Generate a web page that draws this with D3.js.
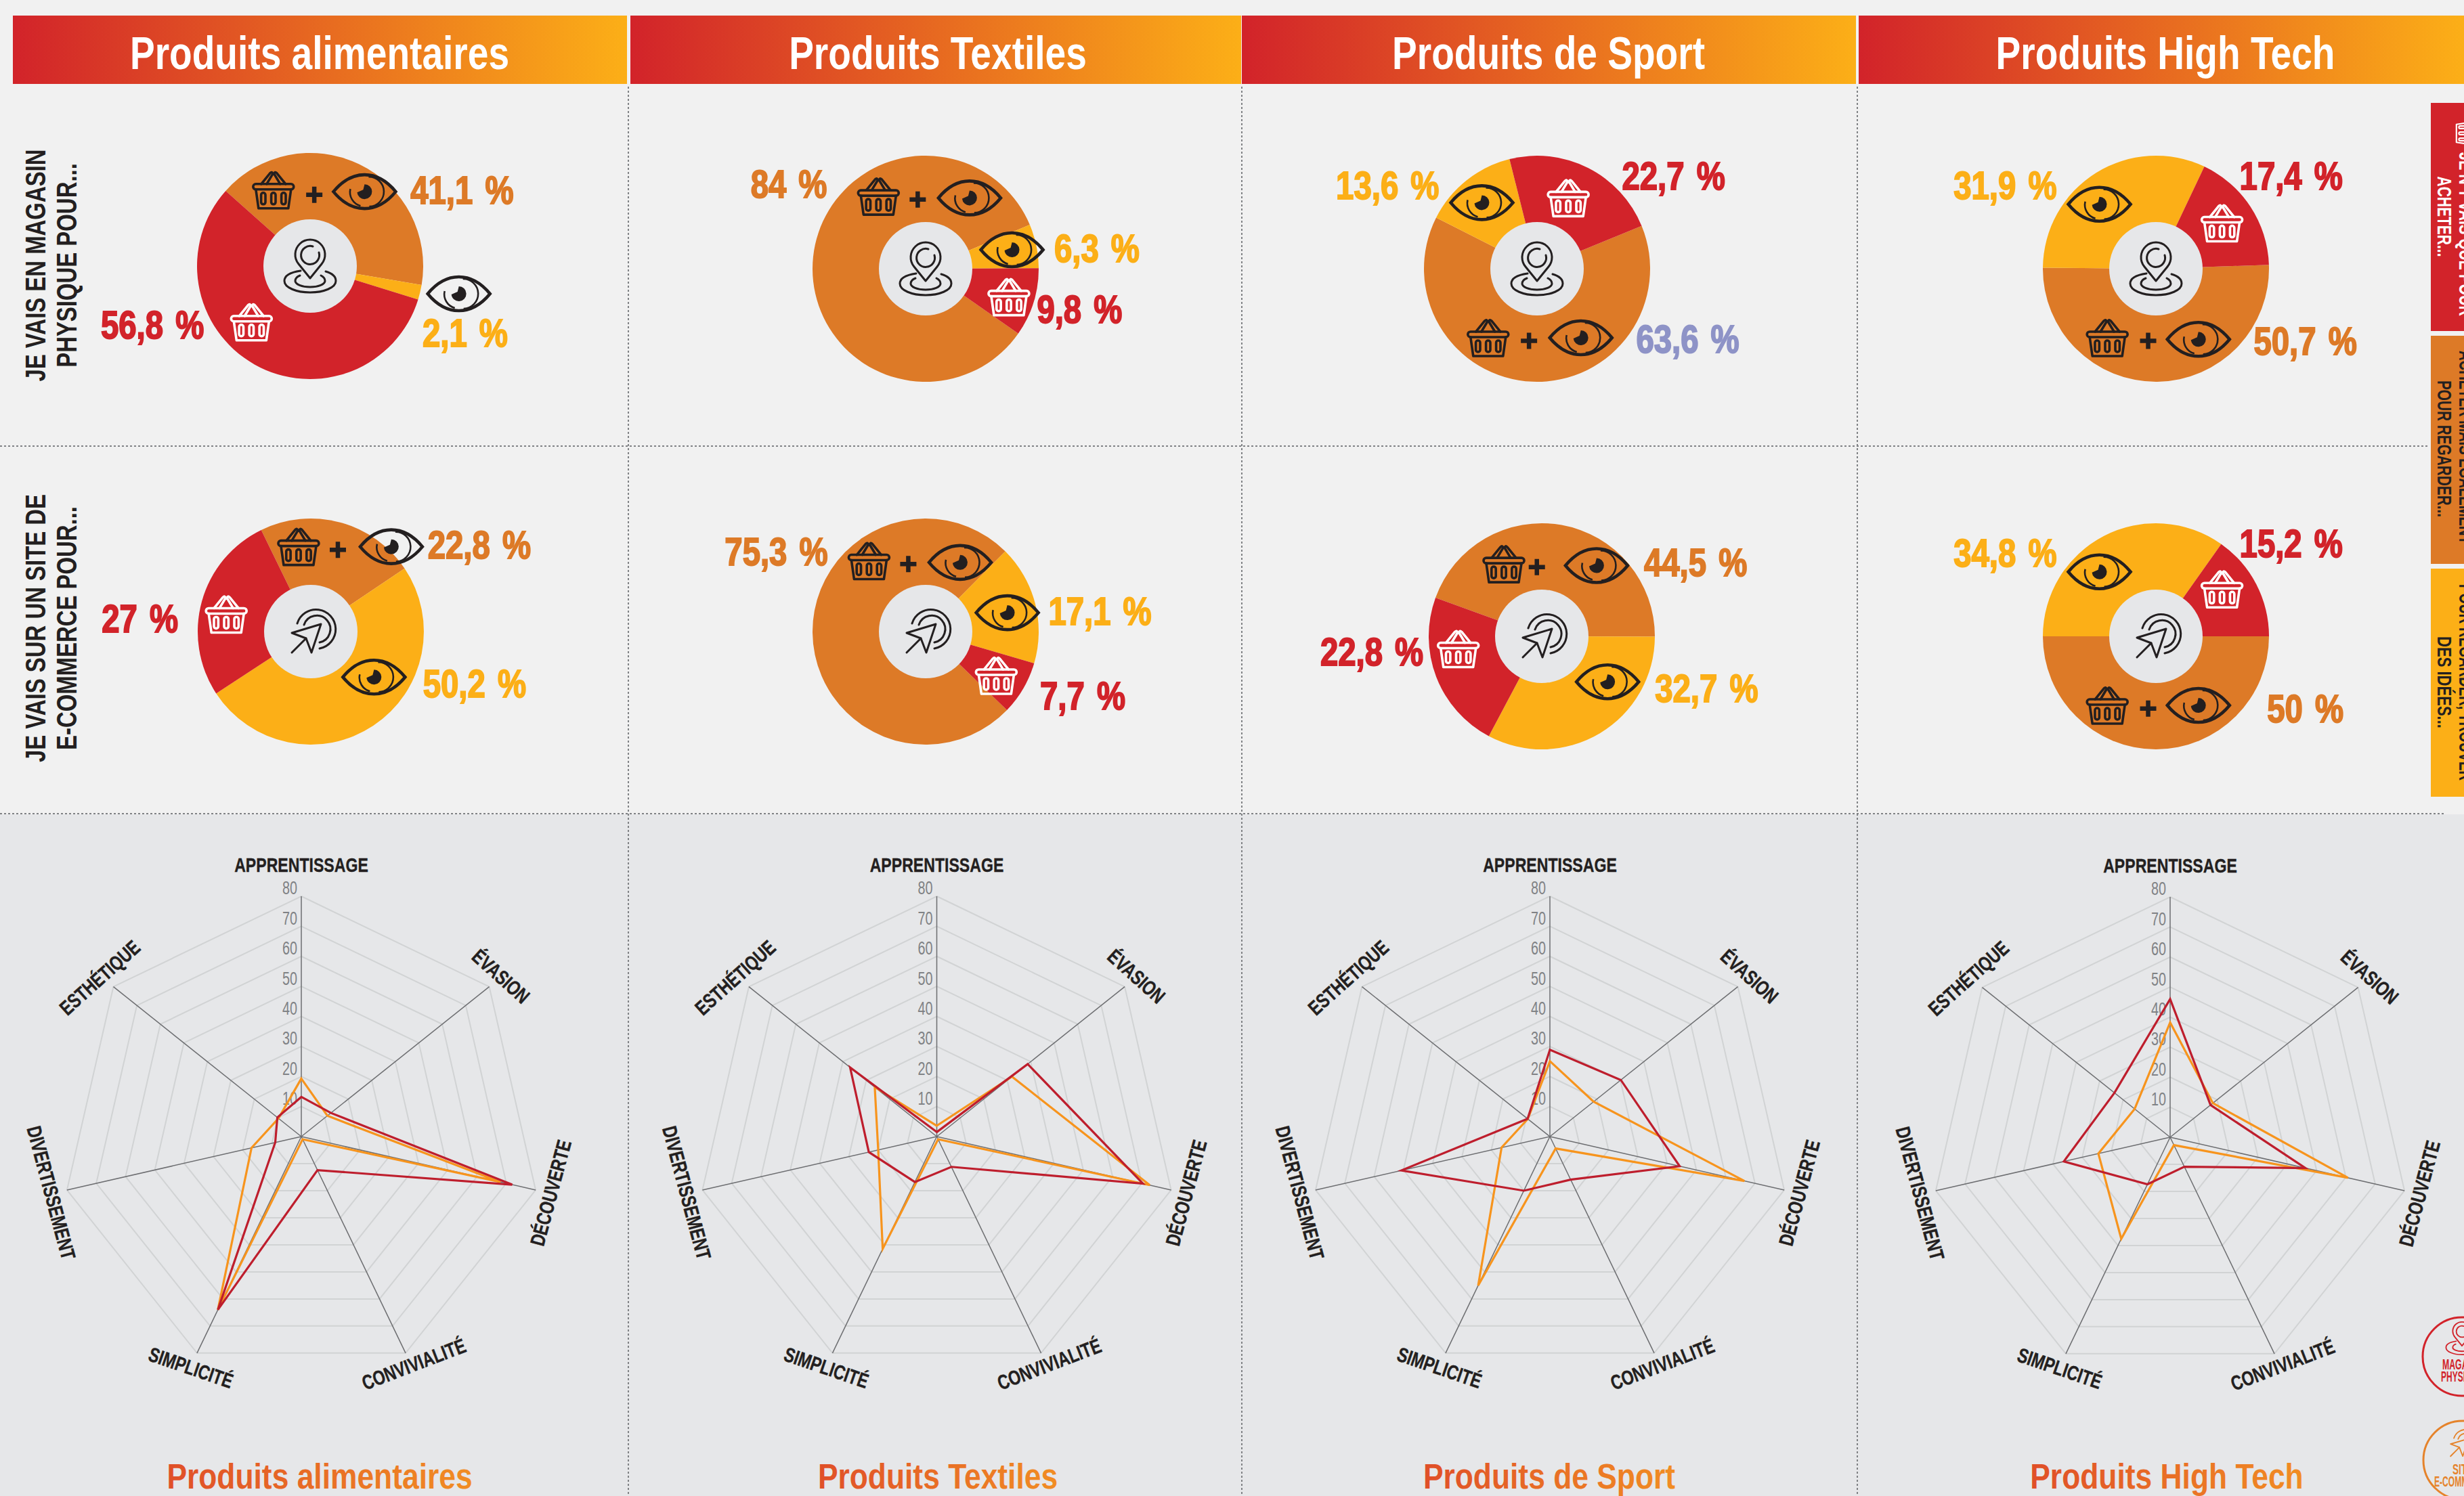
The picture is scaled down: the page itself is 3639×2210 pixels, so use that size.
<!DOCTYPE html>
<html lang="fr">
<head>
<meta charset="utf-8">
<title>Produits : magasin physique et e-commerce</title>
<script src="https://cdn.jsdelivr.net/npm/d3@7/dist/d3.min.js"></script>
<style>
html,body{margin:0;padding:0;background:#f1f1f1;overflow:hidden}
svg{display:block}
text{font-family:"Liberation Sans",sans-serif}
</style>
</head>
<body>
<svg id="c" width="3639" height="2210" viewBox="0 0 3639 2210"></svg>
<script>
/* ---------- data ---------- */
const categories = ["Produits alimentaires","Produits Textiles","Produits de Sport","Produits High Tech"];
const rowTitles = [["JE VAIS EN MAGASIN","PHYSIQUE POUR..."],["JE VAIS SUR UN SITE DE","E-COMMERCE POUR..."]];
const storeBoth = [41.1,84,63.6,50.7];
const storeLook = [2.1,6.3,13.6,31.9];
const storeBuy  = [56.8,9.8,22.7,17.4];
const webBoth = [22.8,75.3,44.5,50];
const webLook = [50.2,17.1,32.7,34.8];
const webBuy  = [27,7.7,22.8,15.2];
const radarAxes = ["APPRENTISSAGE","ÉVASION","DÉCOUVERTE","CONVIVIALITÉ","SIMPLICITÉ","DIVERTISSEMENT","ESTHÉTIQUE"];
const radarTicks = [10,20,30,40,50,60,70,80];
const radarStore = [
  [13.2,12.6,72,12.4,64,8.9,10.2],
  [1.5,38.7,70.4,11.2,16.8,23.2,36.9],
  [28.9,30.2,44.3,15.9,20,50.7,9.5],
  [46,17.2,46.2,10.9,17.4,36.3,23.7]
];
const radarWeb = [
  [19.3,11.1,68,1,64,17,9.7],
  [3.6,32,72.7,1,41.5,20,26.4],
  [25.1,18.6,66.4,4.4,55,16.5,9.4],
  [38.2,18.2,60.7,2.9,37.5,24.5,15.1]
];
const legendBoxes = [
  ["JE N'Y VAIS QUE POUR","ACHETER..."],
  ["ACHETER MAIS ÉGALEMENT","POUR REGARDER..."],
  ["POUR REGARDER, TROUVER","DES IDÉES..."]
];
const legendMarks = [["MAGASIN","PHYSIQUE"],["SITE","E-COMMERCE"]];

/* ---------- layout (px, or k-scaled from the 1568 px overview) ---------- */
const k = 3639/1568, RED="#d2232a", ORANGE="#dd7a27", YELLOW="#fcaf17", INK="#231f20", LAVENDER="#8e93c7";
const headerX = [[19,926],[931,1833],[1834,2741],[2745,3639]];
const headerText = [472,1385,2287,3198];
const footerText = [472,1385,2288,3200];
const pieStart = [[-48.3,125,67.7,88],[-26,134,-70,90]];
const pieCentre = [[[458,393],[1367,397],[2270,397],[3184,397]],[[459,933],[1367,933],[2277,940],[3184,940]]];
const labelSpots = [
 [ [[294,121],[296,212],[97,207]], [[502,117],[698,158],[687,197]], [[1074,216],[883,118],[1065,112]], [[1467,217],[1276,118],[1458,112]] ],
 [ [[305,347],[302,435],[89,394]], [[494,351],[700,389],[689,443]], [[1079,358],[1086,438],[873,415]], [[1467,451],[1276,352],[1458,346]] ]
];
const iconSpots = [
 [ {b:[174,121],p:[200,124],e:[232,122],l:[292,187],w:[160,205]}, {b:[559,125],p:[584,127],e:[617,126],l:[644,159],w:[642,189]},
   {b:[947,215],p:[973,217],e:[1006,215],l:[943,129],w:[998,126]}, {b:[1341,215],p:[1367,217],e:[1399,216],l:[1336,130],w:[1414,142]} ],
 [ {b:[190,348],p:[215,350],e:[249,348],l:[238,431],w:[144,391]}, {b:[553,357],p:[578,359],e:[611,358],l:[641,390],w:[634,430]},
   {b:[957,359],p:[978,361],e:[1016,360],l:[1023,434],w:[928,413]}, {b:[1341,449],p:[1367,451],e:[1399,449],l:[1336,364],w:[1414,375]} ]
];
const radarCentre = [[445,1679],[1383.5,1679],[2289,1679],[3205,1680]];
const radarRadius = 355;
const axisLabelSpot = [[0,-402,0],[295,-237,42],[368,83,-75],[166,336,-21],[-163,341,19],[-369,83,75],[-298,-235,-42]];

const svg = d3.select("#c");
const defs = svg.append("defs");
function grad(id,a,b){const g=defs.append("linearGradient").attr("id",id);
  g.append("stop").attr("offset",0).attr("stop-color",a);g.append("stop").attr("offset",1).attr("stop-color",b);}
grad("hd",RED,YELLOW); grad("ft","#e04f28","#f18d23");

svg.append("rect").attr("width",3639).attr("height",2210).attr("fill","#f1f1f1");
svg.append("rect").attr("y",1203).attr("width",3639).attr("height",1007).attr("fill","#e6e7e9");

function fit(sel,len){return sel.attr("textLength",len).attr("lengthAdjust","spacingAndGlyphs");}
/* condense a text: the installed families have no condensed cut */
function sq(sel,f){return fit(sel,sel.node().getComputedTextLength()*f);}

/* ---------- icons ---------- */
function basket(g,x,y,col,s=1){
  const n=g.append("g").attr("transform",`translate(${x},${y}) scale(${s})`).attr("fill","none").attr("stroke",col).attr("stroke-width",3.6).attr("stroke-linejoin","round").attr("stroke-linecap","round");
  n.append("rect").attr("x",-30).attr("y",-9).attr("width",60).attr("height",8).attr("rx",4);
  n.append("path").attr("d","M-26,-1 L-22,27 H22 L26,-1");
  n.append("path").attr("d","M-18,-9 L-5,-25 Q-2,-28 -1,-24 L-10,-9 M18,-9 L5,-25 Q2,-28 1,-24 L10,-9");
  [-15,0,15].forEach(c=>n.append("rect").attr("x",c-3.2).attr("y",4).attr("width",6.4).attr("height",17).attr("rx",3.2));
}
function eye(g,x,y){
  const n=g.append("g").attr("transform",`translate(${x},${y})`).attr("fill","none").attr("stroke",INK);
  n.append("path").attr("stroke-width",4.6).attr("stroke-linejoin","miter").attr("d","M-46,0 C-32,-17 -16,-25 0,-25 C16,-25 32,-17 46,0 C32,17 16,25 0,25 C-16,25 -32,17 -46,0Z");
  n.append("path").attr("stroke-width",2.6).attr("d","M-21,-4 A21,21 0 0 0 -6,21 M6,-22 A22,22 0 0 1 7,22");
  n.append("path").attr("fill",INK).attr("stroke","none").attr("d","M0,-11 A11,11 0 1 1 -11,1 L-2,-3 Z");
}
function plus(g,x,y){
  g.append("path").attr("transform",`translate(${x},${y})`).attr("fill","none").attr("stroke",INK).attr("stroke-width",6.5).attr("d","M-12,0 H12 M0,-12 V12");
}
function pin(g,x,y,col=INK,s=1){
  const n=g.append("g").attr("transform",`translate(${x},${y}) scale(${s})`).attr("fill","none").attr("stroke",col).attr("stroke-width",3).attr("stroke-linecap","round").attr("stroke-linejoin","round");
  n.append("path").attr("d","M0,18 L-17,-3 A22,22 0 1 1 17,-3 Z");
  n.append("path").attr("d","M4,-29 A13.5,13.5 0 1 0 13,-20");
  n.append("path").attr("d","M-14,7 C-28,9 -38,14 -38,22 C-38,32 -20,39 0,39 C20,39 38,32 38,22 C38,14 30,10 23,8");
  n.append("path").attr("d","M-15,14 C-20,16 -22,19 -22,22 C-22,27 -12,31 0,31 C12,31 22,27 22,22 C22,19 20,16 16,14");
}
function cursor(g,x,y,col=INK,s=1){
  const n=g.append("g").attr("transform",`translate(${x},${y}) scale(${s})`).attr("fill","none").attr("stroke",col).attr("stroke-width",3).attr("stroke-linecap","round").attr("stroke-linejoin","round");
  n.append("path").attr("d","M11,-11 L-32,2 L-11,10 L-3,31 Z");
  n.append("path").attr("d","M-11,10 L-32,31");
  n.append("path").attr("d","M-24,-12 A29,29 0 1 1 9,25");
  n.append("path").attr("d","M-14,-10 A20,20 0 1 1 9,16");
}

/* ---------- headers and separators ---------- */
categories.forEach((c,i)=>{
  svg.append("rect").attr("x",headerX[i][0]).attr("y",23).attr("width",headerX[i][1]-headerX[i][0]).attr("height",101).attr("fill","url(#hd)");
  sq(svg.append("text").attr("x",headerText[i]).attr("y",102).attr("text-anchor","middle").attr("font-size",68).attr("font-weight",700).attr("fill","#fff").text(c),.81);
  sq(svg.append("text").attr("x",footerText[i]).attr("y",2199).attr("text-anchor","middle").attr("font-size",51).attr("font-weight",700).attr("fill","url(#ft)").text(c),.87);
});
const sep=svg.append("g").attr("stroke","#808285").attr("stroke-width",2).attr("stroke-dasharray","3 3").attr("fill","none");
[928,1834,2743].forEach(x=>sep.append("line").attr("x1",x).attr("x2",x).attr("y1",128).attr("y2",2210));
[[659,3587],[1202,3610]].forEach(([y,x])=>sep.append("line").attr("x1",0).attr("x2",x).attr("y1",y).attr("y2",y));

/* ---------- row titles ---------- */
[392,928].forEach((cy,r)=>{
  rowTitles[r].forEach((t,j)=>{
    sq(svg.append("text").attr("transform",`translate(${j?113:67},${cy}) rotate(-90)`).attr("text-anchor","middle")
      .attr("font-size",43).attr("font-weight",700).attr("fill",INK).text(t),.765);
  });
});

/* ---------- donuts ---------- */
const arc=d3.arc().innerRadius(0).outerRadius(167);
const sliceCol=[ORANGE,YELLOW,RED];
const fmt=v=>String(v).replace(".",",")+" %";
[[storeBoth,storeLook,storeBuy],[webBoth,webLook,webBuy]].forEach((set,r)=>{
  categories.forEach((c,i)=>{
    const vals=set.map(s=>s[i]);
    const a0=pieStart[r][i]*Math.PI/180;
    const [cx,cy]=pieCentre[r][i];
    const g=svg.append("g").attr("transform",`translate(${cx},${cy})`);
    const pie=d3.pie().sort(null).startAngle(a0).endAngle(a0+2*Math.PI);
    g.selectAll("path").data(pie(vals)).join("path").attr("d",arc).attr("fill",(d,j)=>sliceCol[j]);
    g.append("circle").attr("r",69).attr("fill","#e6e7e9");
    (r?cursor:pin)(g,r?4:0,0);
    const s=iconSpots[r][i];
    basket(svg,s.b[0]*k,s.b[1]*k,INK);
    plus(svg,s.p[0]*k,s.p[1]*k);
    eye(svg,s.e[0]*k,s.e[1]*k);
    eye(svg,s.l[0]*k,s.l[1]*k);
    basket(svg,s.w[0]*k,s.w[1]*k,"#fff");
    vals.forEach((v,j)=>{
      const col=(r===0&&i===2&&j===0)?LAVENDER:sliceCol[j];
      sq(svg.append("text").attr("x",labelSpots[r][i][j][0]*k).attr("y",labelSpots[r][i][j][1]*k+20)
        .attr("text-anchor","middle").attr("font-size",57).attr("font-weight",700).attr("fill",col)
        .attr("stroke",col).attr("stroke-width",2).style("word-spacing","6px").text(fmt(v)),.83);
    });
  });
});

/* ---------- radars ---------- */
const rScale=d3.scaleLinear().domain([0,80]).range([0,radarRadius]);
const step=2*Math.PI/radarAxes.length;
const radial=d3.lineRadial().angle((d,i)=>i*step).radius(d=>rScale(d)).curve(d3.curveLinearClosed);
categories.forEach((c,i)=>{
  const [cx,cy]=radarCentre[i];
  const g=svg.append("g").attr("transform",`translate(${cx},${cy})`);
  g.selectAll(".ring").data(radarTicks).join("path").attr("class","ring")
    .attr("d",t=>radial(radarAxes.map(()=>t))).attr("fill","none").attr("stroke","#d1d3d4").attr("stroke-width",2);
  g.selectAll(".spoke").data(radarAxes).join("line").attr("class","spoke")
    .attr("x2",(d,j)=>d3.pointRadial(j*step,radarRadius)[0]).attr("y2",(d,j)=>d3.pointRadial(j*step,radarRadius)[1])
    .attr("stroke","#6d6e71").attr("stroke-width",1.5);
  const ax=g.append("g").call(d3.axisLeft(d3.scaleLinear().domain([0,80]).range([0,-radarRadius])).tickValues(radarTicks).tickSize(0).tickPadding(6));
  ax.select(".domain").remove();
  ax.selectAll("text").attr("y",-12).attr("font-size",28).attr("fill","#808285").style("font-family",'"Liberation Sans",sans-serif').attr("font-weight",400)
    .each(function(){d3.select(this).attr("textLength",22).attr("lengthAdjust","spacingAndGlyphs");});
  [[radarWeb,"#f7941d"],[radarStore,"#be1e2d"]].forEach(([src,col])=>{
    g.append("path").attr("d",radial(src[i])).attr("fill","none").attr("stroke",col).attr("stroke-width",3.2).attr("stroke-linejoin","miter");
  });
  radarAxes.forEach((t,j)=>{
    const [x,y,rot]=axisLabelSpot[j];
    sq(g.append("text").attr("transform",`translate(${x},${y}) rotate(${rot})`).attr("text-anchor","middle").attr("dy","0.36em")
      .attr("font-size",30).attr("font-weight",700).attr("fill",INK).attr("stroke",INK).attr("stroke-width",.4).text(t),.77);
  });
});

/* ---------- right legend ---------- */
const boxes=[[152,337,RED,"#fff",346,242,320,119],[496,337,ORANGE,INK,661,286,663,202],[840,337,YELLOW,INK,1008,290,1008,136]];
legendBoxes.forEach((lines,i)=>{
  const [y,h,col,tc,c1,l1,c2,l2]=boxes[i];
  svg.append("rect").attr("x",3590).attr("y",y).attr("width",49).attr("height",h).attr("fill",col);
  fit(svg.append("text").attr("transform",`translate(3632,${c1}) rotate(90)`).attr("text-anchor","middle").attr("font-size",30).attr("fill",tc).attr("font-weight",700).text(lines[0]),l1);
  fit(svg.append("text").attr("transform",`translate(3600,${c2}) rotate(90)`).attr("text-anchor","middle").attr("font-size",30).attr("fill",tc).attr("font-weight",700).text(lines[1]),l2);
});
{const n=svg.append("g").attr("transform","translate(3644,197) rotate(90) scale(.6)");basket(n,0,0,"#fff");}
const marks=[[3636,2004,RED,2023,2041,58,62],[3637,2157,"#e5832b",2178,2196,30,84]];
legendMarks.forEach((lines,i)=>{
  const [x,y,col,y1,y2,l1,l2]=marks[i];
  svg.append("circle").attr("cx",x).attr("cy",y).attr("r",58).attr("fill","none").attr("stroke",col).attr("stroke-width",3);
  (i?cursor:pin)(svg,x+(i?2:0),i?2132:1977,col,.62);
  fit(svg.append("text").attr("x",x).attr("y",y1).attr("text-anchor","middle").attr("font-size",22).attr("font-weight",700).attr("fill",col).text(lines[0]),l1);
  fit(svg.append("text").attr("x",x).attr("y",y2).attr("text-anchor","middle").attr("font-size",22).attr("font-weight",700).attr("fill",col).text(lines[1]),l2);
});
</script>
</body>
</html>
